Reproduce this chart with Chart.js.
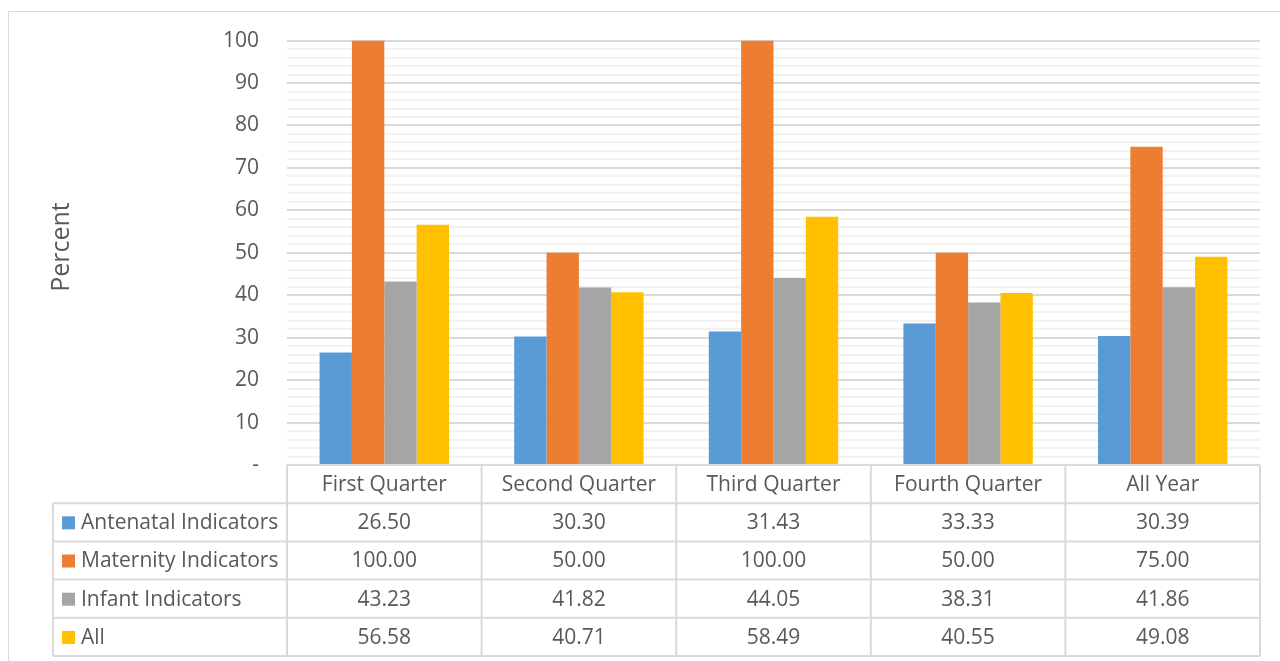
<!DOCTYPE html>
<html>
<head>
<meta charset="utf-8">
<script src="https://cdn.jsdelivr.net/npm/chart.js@4.4.1/dist/chart.umd.min.js"></script>
<style>
  html, body { margin: 0; padding: 0; background: #fff; }
  #wrap { width: 1280px; height: 661px; position: relative; }
</style>
</head>
<body>
<div id="wrap"><canvas id="myChart" width="1280" height="661"></canvas></div>
<script>
const categories = ['First Quarter', 'Second Quarter', 'Third Quarter', 'Fourth Quarter', 'All Year'];
const antenatal = [26.50, 30.30, 31.43, 33.33, 30.39];
const maternity = [100.00, 50.00, 100.00, 50.00, 75.00];
const infant = [43.23, 41.82, 44.05, 38.31, 41.86];
const allInd = [56.58, 40.71, 58.49, 40.55, 49.08];
const seriesNames = ['Antenatal Indicators', 'Maternity Indicators', 'Infant Indicators', 'All'];
const colors = ['#5B9BD5', '#ED7D31', '#A5A5A5', '#FFC000'];

const FONT = '"Open Sans", Calibri, sans-serif';
const TEXT = '#595959';
const LINE = '#d9d9d9';

// draws outer frame, y-axis title and the data table under the plot
const tablePlugin = {
  id: 'dataTable',
  afterDraw(chart) {
    const ctx = chart.ctx;
    const x = chart.scales.x;
    const area = chart.chartArea;
    const series = chart.data.datasets;
    const rowH = 38.2;
    const left = 53;
    const top = area.bottom;
    const bounds = [];
    for (let i = 0; i <= categories.length; i++) {
      bounds.push(i === 0 ? area.left : (i === categories.length ? area.right : (x.getPixelForValue(i - 1) + x.getPixelForValue(i)) / 2));
    }
    ctx.save();
    // outer frame
    ctx.strokeStyle = LINE;
    ctx.lineWidth = 1;
    ctx.beginPath();
    ctx.moveTo(8.5, 700);
    ctx.lineTo(8.5, 11.5);
    ctx.lineTo(1280, 11.5);
    ctx.stroke();

    // y title
    ctx.fillStyle = TEXT;
    ctx.font = '25px ' + FONT;
    ctx.textAlign = 'center';
    ctx.textBaseline = 'middle';
    ctx.translate(62, 247);
    ctx.rotate(-Math.PI / 2);
    ctx.fillText('Percent', 0, 0);
    ctx.setTransform(1, 0, 0, 1, 0, 0);

    // table lines
    ctx.strokeStyle = LINE;
    ctx.lineWidth = 2;
    ctx.beginPath();
    const bottom = top + rowH * (series.length + 1);
    for (let r = 0; r <= series.length + 1; r++) {
      const y = top + r * rowH;
      ctx.moveTo(r === 0 ? area.left : left, y);
      ctx.lineTo(area.right, y);
    }
    bounds.forEach(b => { ctx.moveTo(b, top); ctx.lineTo(b, bottom); });
    ctx.moveTo(left, top + rowH); ctx.lineTo(left, bottom);
    ctx.stroke();

    // header
    ctx.fillStyle = TEXT;
    ctx.font = '21px ' + FONT;
    ctx.textBaseline = 'middle';
    ctx.textAlign = 'center';
    categories.forEach((c, i) => ctx.fillText(c, (bounds[i] + bounds[i + 1]) / 2, top + rowH / 2 + 1));
    // rows
    series.forEach((ds, r) => {
      const y = top + rowH * (r + 1.5) + 1;
      ctx.fillStyle = ds.backgroundColor;
      ctx.fillRect(62, y - 7, 13, 13);
      ctx.fillStyle = TEXT;
      ctx.textAlign = 'left';
      ctx.fillText(ds.label, 81, y);
      ctx.textAlign = 'center';
      ds.data.forEach((v, i) => ctx.fillText(v.toFixed(2), (bounds[i] + bounds[i + 1]) / 2, y));
    });
    ctx.restore();
  }
};

const ctx = document.getElementById('myChart');
new Chart(ctx, {
  type: 'bar',
  data: {
    labels: categories,
    datasets: [antenatal, maternity, infant, allInd].map((d, i) => ({
      label: seriesNames[i],
      data: d,
      backgroundColor: colors[i],
      borderWidth: 0
    }))
  },
  options: {
    responsive: false,
    animation: false,
    events: [],
    layout: { padding: { left: 0, right: 20, top: 40, bottom: 196 } },
    categoryPercentage: 0.665,
    barPercentage: 1,
    plugins: { legend: { display: false }, tooltip: { enabled: false } },
    scales: {
      x: {
        display: true,
        grid: { display: false, drawTicks: false },
        border: { display: false },
        ticks: { display: false }
      },
      y: {
        min: 0,
        max: 100,
        afterFit(scale) { scale.width = 287; },
        border: { display: false },
        grid: {
          drawTicks: false,
          lineWidth: 2,
          color: c => (c.tick.value % 10 === 0 ? LINE : '#f2f2f2')
        },
        ticks: {
          stepSize: 2,
          autoSkip: false,
          padding: 28,
          color: TEXT,
          font: { family: FONT, size: 21 },
          callback: v => (v % 10 === 0 ? (v === 0 ? '-' : String(v)) : '')
        }
      }
    }
  },
  plugins: [tablePlugin]
});
</script>
</body>
</html>
